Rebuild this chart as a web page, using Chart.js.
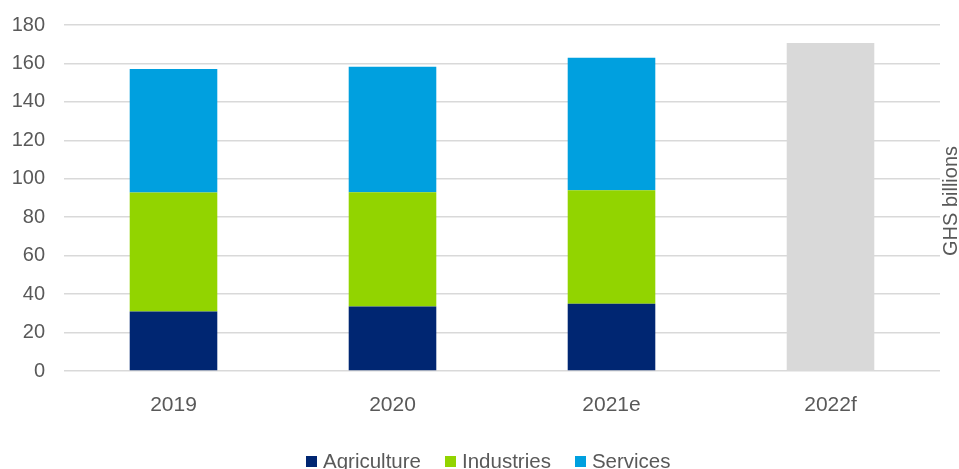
<!DOCTYPE html>
<html>
<head>
<meta charset="utf-8">
<script src="https://cdn.jsdelivr.net/npm/chart.js@4.4.1/dist/chart.umd.min.js"></script>
<style>
  html, body { margin: 0; padding: 0; background: #fff; }
  #wrap { position: relative; width: 959px; height: 469px; }
  #legend {
    position: absolute; left: 306px; top: 449px;
    display: flex; gap: 24px;
    font: 20.5px/24px 'Liberation Sans', Arial, sans-serif; color: #595959;
  }
  #legend .item { display: flex; align-items: flex-start; }
  #legend .box { width: 11px; height: 11px; margin: 7px 6px 0 0; }
</style>
</head>
<body>
<div id="wrap">
  <canvas id="chart" width="959" height="469"></canvas>
  <div id="legend"></div>
</div>
<script>
// data (GHS billions)
const years = ["2019", "2020", "2021e", "2022f"];
const agriculture = [31, 33.5, 35, null];
const industries = [61.8, 59.5, 59, null];
const services = [64.3, 65.3, 69, null];
const forecastTotal = [null, null, null, 170.7];
const yTicks = [0, 20, 40, 60, 80, 100, 120, 140, 160, 180];

const textColor = "#595959";
const gridColor = "#d9d9d9";
const fontFamily = "'Liberation Sans', Arial, sans-serif";

// right-hand axis title, reads bottom to top
const rightTitle = {
  id: "rightTitle",
  afterDraw(chart) {
    const ctx = chart.ctx;
    const area = chart.chartArea;
    ctx.save();
    ctx.translate(951, (area.top + area.bottom) / 2 + 3);
    ctx.rotate(-Math.PI / 2);
    ctx.fillStyle = textColor;
    ctx.font = "20px " + fontFamily;
    ctx.textAlign = "center";
    ctx.textBaseline = "middle";
    ctx.fillText("GHS billions", 0, 0);
    ctx.restore();
  }
};

function bar(label, data, color) {
  return {
    label: label,
    data: data,
    backgroundColor: color,
    borderWidth: 0,
    barPercentage: 0.4,
    categoryPercentage: 1,
    stack: "s"
  };
}

const chart = new Chart(document.getElementById("chart"), {
  type: "bar",
  data: {
    labels: years,
    datasets: [
      bar("Agriculture", agriculture, "#002672"),
      bar("Industries", industries, "#92d400"),
      bar("Services", services, "#00a0df"),
      bar("2022f", forecastTotal, "#d9d9d9")
    ]
  },
  options: {
    responsive: false,
    animation: false,
    layout: { padding: { top: 25, right: 19, left: 0, bottom: 58 } },
    plugins: {
      tooltip: { enabled: false },
      legend: { display: false }
    },
    scales: {
      x: {
        stacked: true,
        grid: { display: false },
        border: { display: false },
        ticks: {
          color: textColor,
          padding: 14,
          font: { size: 21, family: fontFamily }
        },
        afterFit: s => { s.height = 40; s.paddingLeft = 0; s.paddingRight = 0; }
      },
      y: {
        stacked: true,
        min: 0,
        max: 180,
        afterBuildTicks: s => { s.ticks = yTicks.map(v => ({ value: v })); },
        grid: { color: gridColor, lineWidth: 1.5, drawTicks: false },
        border: { display: false },
        ticks: {
          color: textColor,
          padding: 19,
          font: { size: 20, family: fontFamily }
        },
        afterFit: s => { s.width = 64; s.paddingTop = 0; s.paddingBottom = 0; }
      }
    }
  },
  plugins: [rightTitle]
});

// html legend, skipping the forecast bar
const legendEl = document.getElementById("legend");
chart.data.datasets.slice(0, 3).forEach(ds => {
  const item = document.createElement("div");
  item.className = "item";
  const box = document.createElement("span");
  box.className = "box";
  box.style.background = ds.backgroundColor;
  const txt = document.createElement("span");
  txt.textContent = ds.label;
  item.appendChild(box);
  item.appendChild(txt);
  legendEl.appendChild(item);
});
</script>
</body>
</html>
